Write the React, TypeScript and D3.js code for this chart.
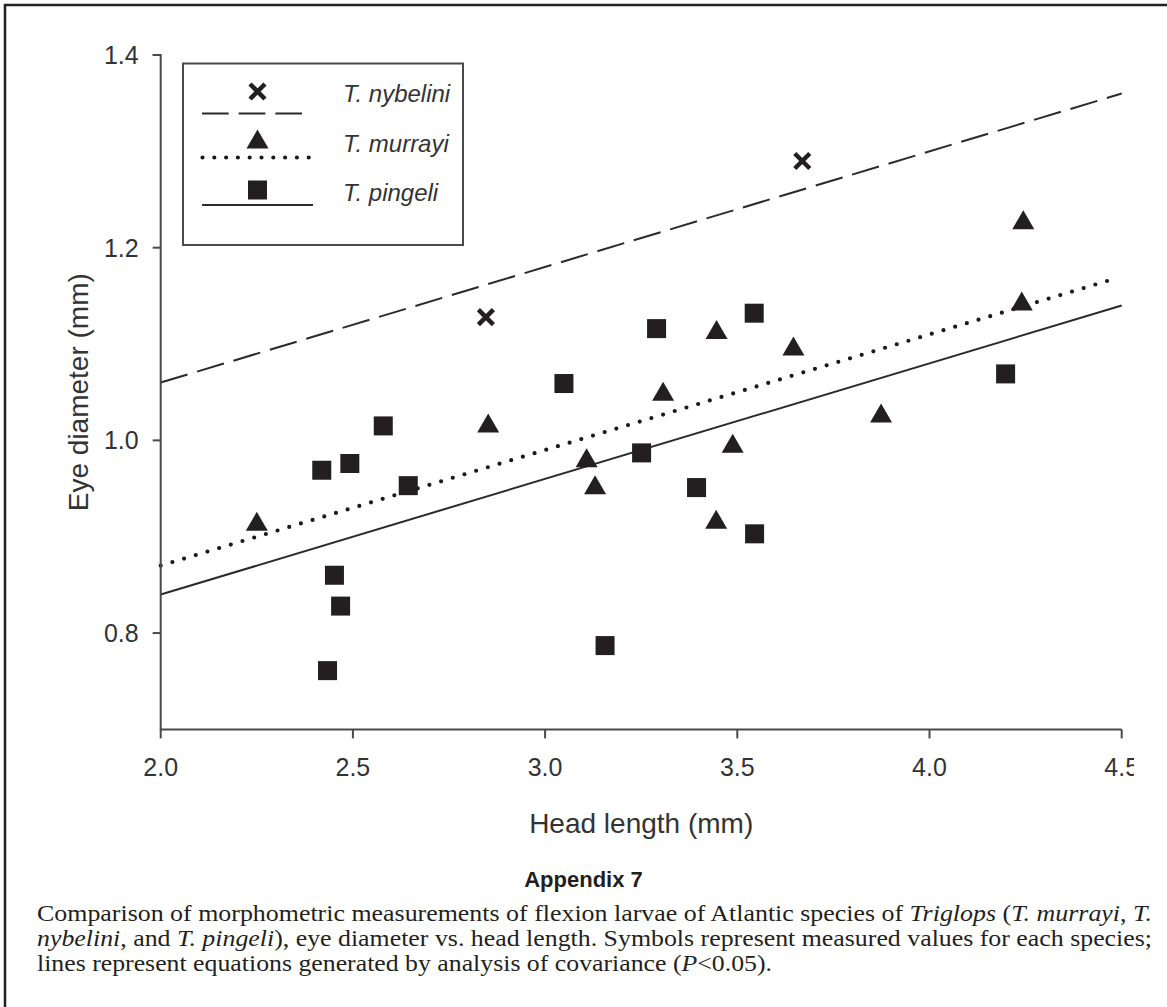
import React from "react";
import * as d3 from "d3";

// ---------- data ----------
const xTicks = [2.0, 2.5, 3.0, 3.5, 4.0, 4.5];
const yTicks = [0.8, 1.0, 1.2, 1.4];

const nybeliniX = [2.846, 3.669];
const nybeliniY = [1.128, 1.29];

const murrayiX = [2.25, 2.852, 3.108, 3.13, 3.307, 3.446, 3.445, 3.488, 3.646, 3.874, 4.24, 4.244];
const murrayiY = [0.915, 1.017, 0.981, 0.953, 1.05, 1.114, 0.917, 0.996, 1.097, 1.0275, 1.1435, 1.228];

const pingeliX = [2.434, 2.452, 2.468, 2.419, 2.492, 2.579, 2.644, 3.049, 3.156, 3.251, 3.29, 3.394, 3.544, 3.545, 4.198];
const pingeliY = [0.761, 0.86, 0.828, 0.969, 0.976, 1.015, 0.953, 1.059, 0.787, 0.987, 1.116, 0.951, 1.132, 0.903, 1.069];

// ANCOVA lines: value at x = 2.0 and x = 4.5
const lineX = [2.0, 4.5];
const nybeliniLine = [1.06, 1.36];
const murrayiLine = [0.87, 1.17];
const pingeliLine = [0.84, 1.14];
const murrayiLineEndX = 4.472;

const legendNames = ["T. nybelini", "T. murrayi", "T. pingeli"];

const INK = "#231f20";
const AXIS = "#4a4a4a";
const TXT = "#333333";

export default function App() {
  const x = d3.scaleLinear().domain([2.0, 4.5]).range([160.7, 1121.7]);
  const y = d3.scaleLinear().domain([0.7, 1.4]).range([729.4, 55]);
  const line = d3
    .line<[number, number]>()
    .x((d) => x(d[0]))
    .y((d) => y(d[1]));

  const mkLine = (vals: number[]) => line(lineX.map((v, i) => [v, vals[i]] as [number, number])) || "";
  const murrayiFit = d3.scaleLinear().domain(lineX).range(murrayiLine);

  const sq = 19;
  const triPath = (cx: number, cy: number) =>
    `M${cx},${cy - 10.5}L${cx + 11},${cy + 8.5}L${cx - 11},${cy + 8.5}Z`;
  const crossPath = (cx: number, cy: number) =>
    `M${cx - 7.5},${cy - 7.5}L${cx + 7.5},${cy + 7.5}M${cx + 7.5},${cy - 7.5}L${cx - 7.5},${cy + 7.5}`;

  const fontSans = "'Liberation Sans', Arial, sans-serif";
  const fontSerif = "'Liberation Serif', 'Times New Roman', serif";

  return (
    <svg
      width={1167}
      height={1007}
      style={{ position: "absolute", left: 0, top: 0, background: "#fff" }}
    >
      <defs>
        <clipPath id="chartClip">
          <rect x={0} y={0} width={1134} height={1007} />
        </clipPath>
      </defs>
      <rect x={0} y={0} width={1167} height={1007} fill="#fff" />
      {/* outer frame */}
      <rect x={5} y={5} width={1200} height={1100} fill="none" stroke="#222" strokeWidth={2.5} />

      <g clipPath="url(#chartClip)">
        {/* regression lines */}
        <path d={mkLine(nybeliniLine)} fill="none" stroke="#2a2a2a" strokeWidth={2} strokeDasharray="28,10" />
        <path
          d={line([
            [lineX[0], murrayiLine[0]],
            [murrayiLineEndX, murrayiFit(murrayiLineEndX)],
          ]) || ""}
          fill="none"
          stroke="#1a1a1a"
          strokeWidth={4.2}
          strokeLinecap="round"
          strokeDasharray="0,12.2"
        />
        <path d={mkLine(pingeliLine)} fill="none" stroke="#2a2a2a" strokeWidth={2} />

        {/* markers */}
        {pingeliX.map((v, i) => (
          <rect key={"p" + i} x={x(v) - sq / 2} y={y(pingeliY[i]) - sq / 2} width={sq} height={sq} fill={INK} />
        ))}
        {murrayiX.map((v, i) => (
          <path key={"m" + i} d={triPath(x(v), y(murrayiY[i]))} fill={INK} />
        ))}
        {nybeliniX.map((v, i) => (
          <path key={"n" + i} d={crossPath(x(v), y(nybeliniY[i]))} stroke={INK} strokeWidth={4.5} fill="none" />
        ))}

        {/* axes */}
        <path
          d={`M${x(2.0) - 8},${y(1.4)}H${x(2.0)}V${y(0.7)}H${x(4.5)}`}
          fill="none"
          stroke={AXIS}
          strokeWidth={2}
        />
        {yTicks.map((t) => (
          <g key={"yt" + t}>
            <line x1={x(2.0) - 8} x2={x(2.0)} y1={y(t)} y2={y(t)} stroke={AXIS} strokeWidth={2} />
            <text
              x={x(2.0) - 22}
              y={y(t)}
              dy="0.36em"
              textAnchor="end"
              fontFamily={fontSans}
              fontSize={25}
              fill={TXT}
            >
              {t.toFixed(1)}
            </text>
          </g>
        ))}
        {xTicks.map((t) => (
          <g key={"xt" + t}>
            <line x1={x(t)} x2={x(t)} y1={y(0.7)} y2={y(0.7) + 9} stroke={AXIS} strokeWidth={2} />
            <text
              x={x(t)}
              y={y(0.7) + 38}
              dy="0.36em"
              textAnchor="middle"
              fontFamily={fontSans}
              fontSize={25}
              fill={TXT}
            >
              {t.toFixed(1)}
            </text>
          </g>
        ))}
      </g>

      {/* axis titles */}
      <text
        transform={`translate(88,${(y(0.7) + y(1.4)) / 2}) rotate(-90)`}
        textAnchor="middle"
        fontFamily={fontSans}
        fontSize={28}
        fill={TXT}
      >
        Eye diameter (mm)
      </text>
      <text x={(x(2) + x(4.5)) / 2} y={833} textAnchor="middle" fontFamily={fontSans} fontSize={28} fill={TXT}>
        Head length (mm)
      </text>

      {/* legend */}
      <rect x={183} y={63.5} width={280} height={181.5} fill="#fff" stroke={AXIS} strokeWidth={2} />
      <path d={crossPath(257.5, 91.5)} stroke={INK} strokeWidth={4.5} fill="none" />
      <line x1={202} x2={302} y1={113.5} y2={113.5} stroke="#2a2a2a" strokeWidth={2} strokeDasharray="26.7,10" />
      <path d={triPath(257.5, 140)} fill={INK} />
      <line
        x1={202.5}
        x2={310}
        y1={157.5}
        y2={157.5}
        stroke="#1a1a1a"
        strokeWidth={4.2}
        strokeLinecap="round"
        strokeDasharray="0,11.8"
      />
      <rect x={257.5 - sq / 2} y={190 - sq / 2} width={sq} height={sq} fill={INK} />
      <line x1={202} x2={313} y1={205} y2={205} stroke="#2a2a2a" strokeWidth={2} />
      {legendNames.map((n, i) => (
        <text
          key={n}
          x={343}
          y={[93, 143, 192][i]}
          dy="0.36em"
          fontFamily={fontSans}
          fontStyle="italic"
          fontSize={24}
          fill={TXT}
        >
          {n}
        </text>
      ))}

      {/* caption */}
      <text
        x={583.5}
        y={887}
        textAnchor="middle"
        fontFamily="'Liberation Sans Narrow', 'Liberation Sans', Arial, sans-serif"
        fontWeight="bold"
        fontSize={22}
        fill={INK}
      >
        Appendix 7
      </text>
      <text
        x={37}
        y={921}
        fontFamily={fontSerif}
        fontSize={23}
        fill={INK}
        textLength={1115}
        lengthAdjust="spacingAndGlyphs"
      >
        Comparison of morphometric measurements of flexion larvae of Atlantic species of{" "}
        <tspan fontStyle="italic">Triglops</tspan> (<tspan fontStyle="italic">T. murrayi</tspan>,{" "}
        <tspan fontStyle="italic">T.</tspan>
      </text>
      <text
        x={37}
        y={946}
        fontFamily={fontSerif}
        fontSize={23}
        fill={INK}
        textLength={1115}
        lengthAdjust="spacingAndGlyphs"
      >
        <tspan fontStyle="italic">nybelini</tspan>, and <tspan fontStyle="italic">T. pingeli</tspan>), eye diameter
        vs. head length. Symbols represent measured values for each species;
      </text>
      <text
        x={37}
        y={971}
        fontFamily={fontSerif}
        fontSize={23}
        fill={INK}
        textLength={735}
        lengthAdjust="spacingAndGlyphs"
      >
        lines represent equations generated by analysis of covariance (<tspan fontStyle="italic">P</tspan>&lt;0.05).
      </text>
    </svg>
  );
}
